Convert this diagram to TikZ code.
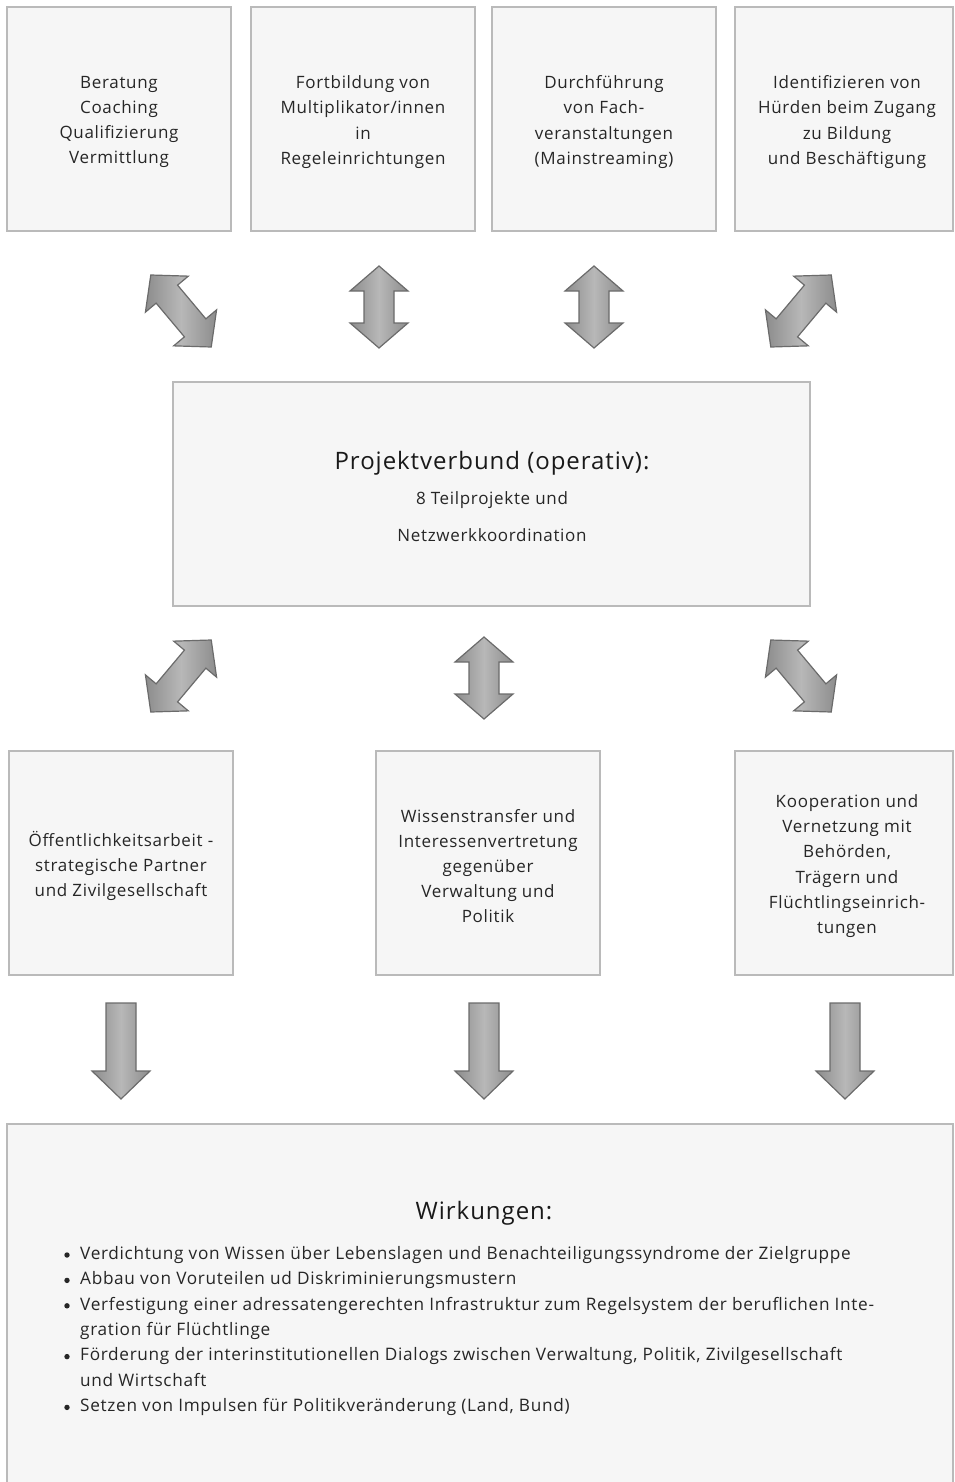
\documentclass[tikz,border=0pt]{standalone}
\usepackage{fontspec}
\setmainfont{Open Sans}[LetterSpace=4]
\begin{document}
\begin{tikzpicture}[x=1pt,y=-1pt,
  box/.style={draw=black!27,line width=1.1pt,fill=black!3.5,inner sep=0pt,text=black!85,align=center},
  boxtxt/.style={text=black!85,align=center,font=\fontsize{17}{25.2}\selectfont},
  arr/.style={draw=black!58,line width=1.2pt,left color=black!45,right color=black!45,middle color=black!28},
  vdbl/.pic={\path[arr] (0,-41)--(29,-16)--(15,-16)--(15,16)--(29,16)--(0,41)--(-29,16)--(-15,16)--(-15,-16)--(-29,-16)--cycle;},
  ddbl/.pic={\path[arr] (0,-47)--(28,-22)--(14,-22)--(14,22)--(28,22)--(0,47)--(-28,22)--(-14,22)--(-14,-22)--(-28,-22)--cycle;},
  down/.pic={\path[arr] (-15,0)--(15,0)--(15,68)--(29,68)--(0,96)--(-29,68)--(-15,68)--cycle;}
]
\useasboundingbox (0,0) rectangle (954,1482);
% top row boxes
\draw[box] (7,7) rectangle (231,231);
\draw[box] (251,7) rectangle (475,231);
\draw[box] (492,7) rectangle (716,231);
\draw[box] (735,7) rectangle (953,231);
\node[boxtxt] (t1) at (119,122) {Beratung\\Coaching\\Qualifizierung\\Vermittlung};
\node[boxtxt] (t2) at (363,122) {Fortbildung von\\Multiplikator/innen\\in\\Regeleinrichtungen};
\node[boxtxt] (t3) at (604,122) {Durchführung\\von Fach-\\veranstaltungen\\(Mainstreaming)};
\node[boxtxt] (t4) at (847,122) {Identifizieren von\\Hürden beim Zugang\\zu Bildung\\und Beschäftigung};
% top arrows
\pic[rotate=40] (a1) at (181,311) {ddbl};
\pic (a2) at (379,307) {vdbl};
\pic (a3) at (594,307) {vdbl};
\pic[rotate=-40] (a4) at (801,311) {ddbl};
% middle box
\draw[box] (173,382) rectangle (810,606);
\node[text=black!90,font=\fontsize{24}{28}\selectfont] (p1) at (492,463) {Projektverbund (operativ):};
\node[boxtxt] (p2) at (492,500) {8 Teilprojekte und};
\node[boxtxt] (p3) at (492,535) {Netzwerkkoordination};
% middle arrows
\pic[rotate=-40] (b1) at (181,676) {ddbl};
\pic (b2) at (484,678) {vdbl};
\pic[rotate=40] (b3) at (801,676) {ddbl};
% bottom row boxes
\draw[box] (9,751) rectangle (233,975);
\draw[box] (376,751) rectangle (600,975);
\draw[box] (735,751) rectangle (953,975);
\node[boxtxt] (m1) at (121,866) {Öffentlichkeitsarbeit -\\strategische Partner\\und Zivilgesellschaft};
\node[boxtxt] (m2) at (488,866) {Wissenstransfer und\\Interessenvertretung\\gegenüber\\Verwaltung und\\Politik};
\node[boxtxt] (m3) at (847,866) {Kooperation und\\Vernetzung mit\\Behörden,\\Trägern und\\Flüchtlingseinrich-\\tungen};
% down arrows
\pic (c1) at (121,1003) {down};
\pic (c2) at (484,1003) {down};
\pic (c3) at (845,1003) {down};
% effects box
\draw[box] (7,1124) rectangle (953,1490);
\node[text=black!90,font=\fontsize{24}{28}\selectfont] (w0) at (484,1213) {Wirkungen:};
\begin{scope}[every node/.style={anchor=north west,inner sep=0pt,align=left,text=black!85,font=\fontsize{17.2}{25.4}\selectfont}]
\node (w1) at (80,1246) {Verdichtung von Wissen über Lebenslagen und Benachteiligungssyndrome der Zielgruppe};
\node (w2) at (80,1271.4) {Abbau von Voruteilen ud Diskriminierungsmustern};
\node (w3) at (80,1296.8) {Verfestigung einer adressatengerechten Infrastruktur zum Regelsystem der beruflichen Inte-\\gration für Flüchtlinge};
\node (w4) at (80,1347.6) {Förderung der interinstitutionellen Dialogs zwischen Verwaltung, Politik, Zivilgesellschaft\\und Wirtschaft};
\node (w5) at (80,1398.4) {Setzen von Impulsen für Politikveränderung (Land, Bund)};
\end{scope}
\foreach \n in {1,...,5}{\fill[black!85] ([xshift=-13pt,yshift=-9pt]w\n.north west) circle (2.7pt);}
\end{tikzpicture}
\end{document}
